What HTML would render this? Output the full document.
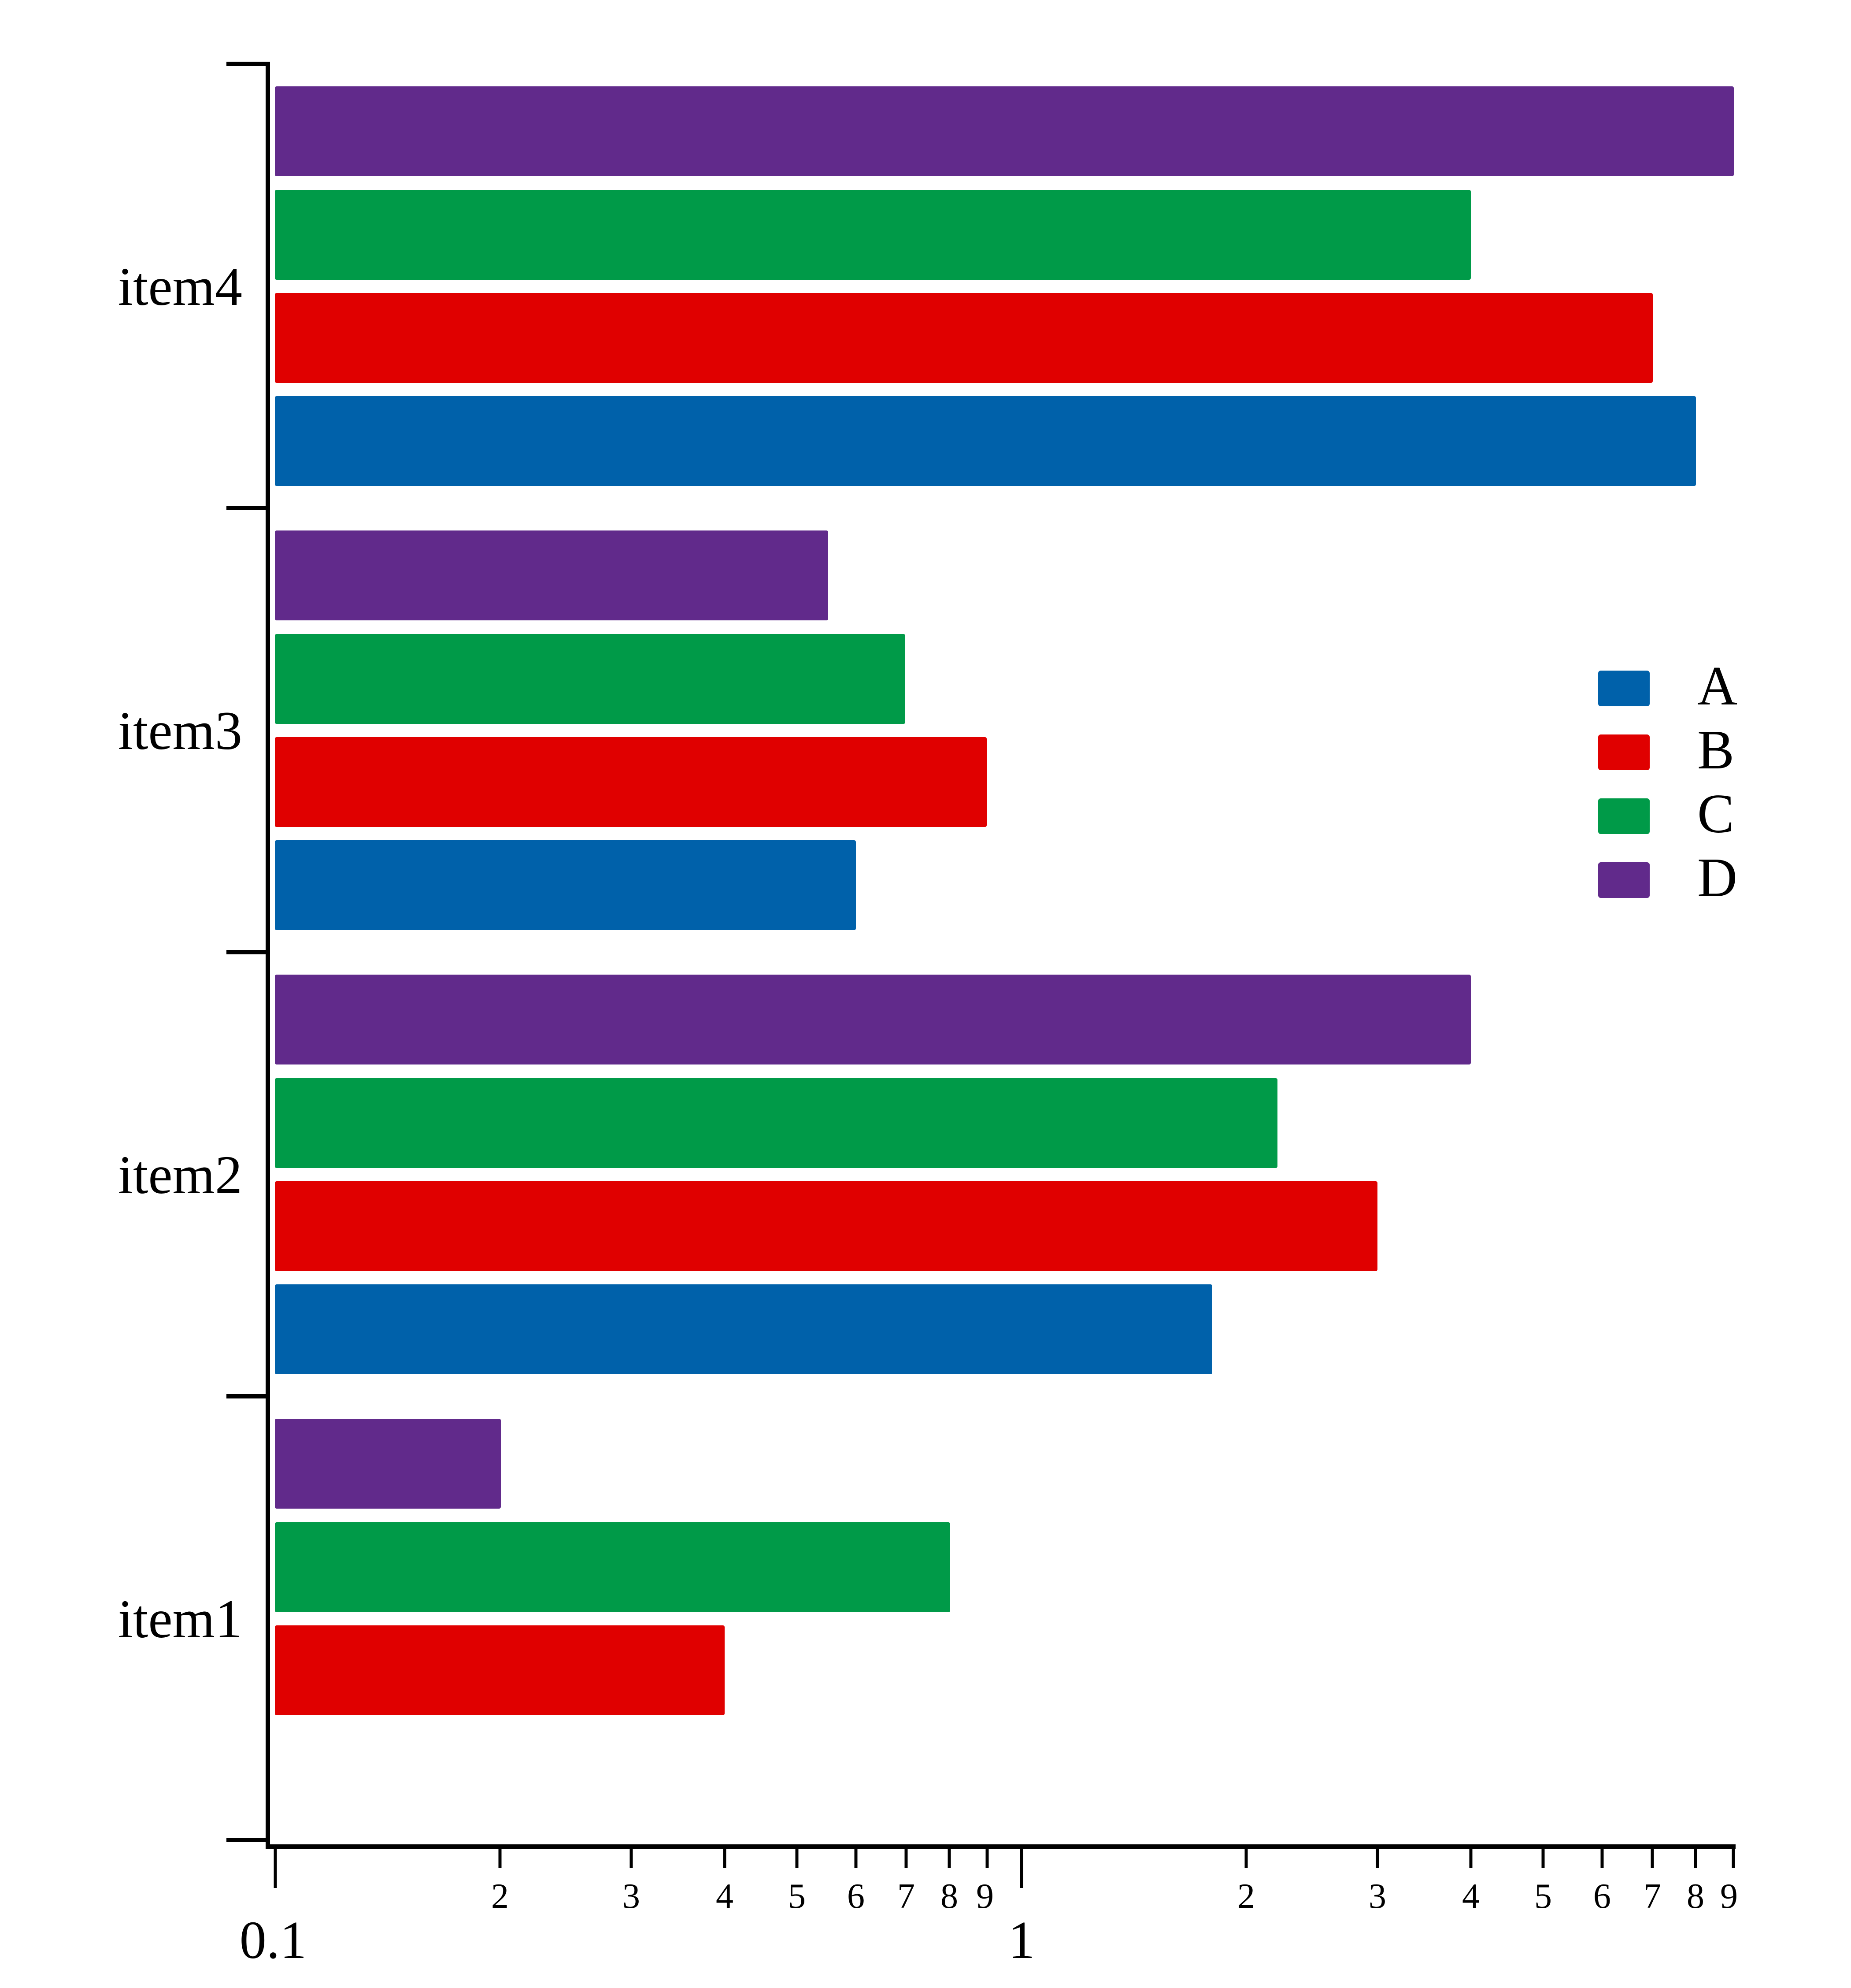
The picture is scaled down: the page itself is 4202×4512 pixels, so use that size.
<!DOCTYPE html>
<html><head><meta charset="utf-8"><style>html,body{margin:0;padding:0;background:#fff}svg{display:block}</style></head>
<body>
<svg width="4202" height="4512" viewBox="0 0 4202 4512" xmlns="http://www.w3.org/2000/svg" font-family="Liberation Serif, serif">
<rect width="4202" height="4512" fill="#fff"/>
<!-- item4 -->
<rect x="624" y="196" width="3312" height="204" rx="4" fill="#612a8b"/>
<rect x="624" y="431" width="2715" height="204" rx="4" fill="#009a48"/>
<rect x="624" y="665" width="3128" height="204" rx="4" fill="#e00000"/>
<rect x="624" y="899" width="3226" height="204" rx="4" fill="#0061aa"/>
<!-- item3 -->
<rect x="624" y="1204" width="1256" height="204" rx="4" fill="#612a8b"/>
<rect x="624" y="1439" width="1431" height="204" rx="4" fill="#009a48"/>
<rect x="624" y="1673" width="1616" height="204" rx="4" fill="#e00000"/>
<rect x="624" y="1907" width="1319" height="204" rx="4" fill="#0061aa"/>
<!-- item2 -->
<rect x="624" y="2212" width="2715" height="204" rx="4" fill="#612a8b"/>
<rect x="624" y="2447" width="2276" height="204" rx="4" fill="#009a48"/>
<rect x="624" y="2681" width="2503" height="204" rx="4" fill="#e00000"/>
<rect x="624" y="2915" width="2128" height="204" rx="4" fill="#0061aa"/>
<!-- item1 -->
<rect x="624" y="3220" width="513" height="204" rx="4" fill="#612a8b"/>
<rect x="624" y="3455" width="1533" height="204" rx="4" fill="#009a48"/>
<rect x="624" y="3689" width="1021" height="204" rx="4" fill="#e00000"/>

<g stroke="#000" fill="none">
<line x1="608" y1="140" x2="608" y2="4196" stroke-width="10"/>
<line x1="603" y1="4191" x2="3940" y2="4191" stroke-width="10"/>
<g stroke-width="10">
<line x1="514" y1="145" x2="608" y2="145"/>
<line x1="514" y1="1153" x2="608" y2="1153"/>
<line x1="514" y1="2161" x2="608" y2="2161"/>
<line x1="514" y1="3169" x2="608" y2="3169"/>
<line x1="514" y1="4176" x2="608" y2="4176"/>
</g>
<g stroke-width="7">
<line x1="625" y1="4191" x2="625" y2="4285"/>
<line x1="2319" y1="4191" x2="2319" y2="4285"/>
<line x1="1135" y1="4191" x2="1135" y2="4240"/>
<line x1="1433" y1="4191" x2="1433" y2="4240"/>
<line x1="1645" y1="4191" x2="1645" y2="4240"/>
<line x1="1809" y1="4191" x2="1809" y2="4240"/>
<line x1="1943" y1="4191" x2="1943" y2="4240"/>
<line x1="2057" y1="4191" x2="2057" y2="4240"/>
<line x1="2155" y1="4191" x2="2155" y2="4240"/>
<line x1="2241" y1="4191" x2="2241" y2="4240"/>
<line x1="2829" y1="4191" x2="2829" y2="4240"/>
<line x1="3127" y1="4191" x2="3127" y2="4240"/>
<line x1="3339" y1="4191" x2="3339" y2="4240"/>
<line x1="3503" y1="4191" x2="3503" y2="4240"/>
<line x1="3637" y1="4191" x2="3637" y2="4240"/>
<line x1="3751" y1="4191" x2="3751" y2="4240"/>
<line x1="3849" y1="4191" x2="3849" y2="4240"/>
<line x1="3935" y1="4191" x2="3935" y2="4240"/>
</g>
</g>
<g font-size="80" text-anchor="middle" fill="#000">
<text x="1135" y="4330">2</text><text x="1433" y="4330">3</text><text x="1645" y="4330">4</text><text x="1809" y="4330">5</text><text x="1943" y="4330">6</text><text x="2057" y="4330">7</text><text x="2155" y="4330">8</text><text x="2236" y="4330">9</text>
<text x="2829" y="4330">2</text><text x="3127" y="4330">3</text><text x="3339" y="4330">4</text><text x="3503" y="4330">5</text><text x="3637" y="4330">6</text><text x="3751" y="4330">7</text><text x="3849" y="4330">8</text><text x="3925" y="4330">9</text>
</g>
<g font-size="122" text-anchor="middle" fill="#000">
<text x="620" y="4444">0.1</text><text x="2319" y="4444">1</text>
</g>
<g font-size="124" text-anchor="end" fill="#000">
<text x="550" y="692">item4</text>
<text x="550" y="1700">item3</text>
<text x="550" y="2708">item2</text>
<text x="550" y="3716">item1</text>
</g>
<rect x="3628" y="1522" width="117" height="81" rx="6" fill="#0061aa"/>
<rect x="3628" y="1667" width="117" height="81" rx="6" fill="#e00000"/>
<rect x="3628" y="1812" width="117" height="81" rx="6" fill="#009a48"/>
<rect x="3628" y="1957" width="117" height="81" rx="6" fill="#612a8b"/>
<g font-size="126" fill="#000">
<text x="3853" y="1599">A</text>
<text x="3853" y="1744">B</text>
<text x="3853" y="1889">C</text>
<text x="3853" y="2034">D</text>
</g>
</svg>
</body></html>
